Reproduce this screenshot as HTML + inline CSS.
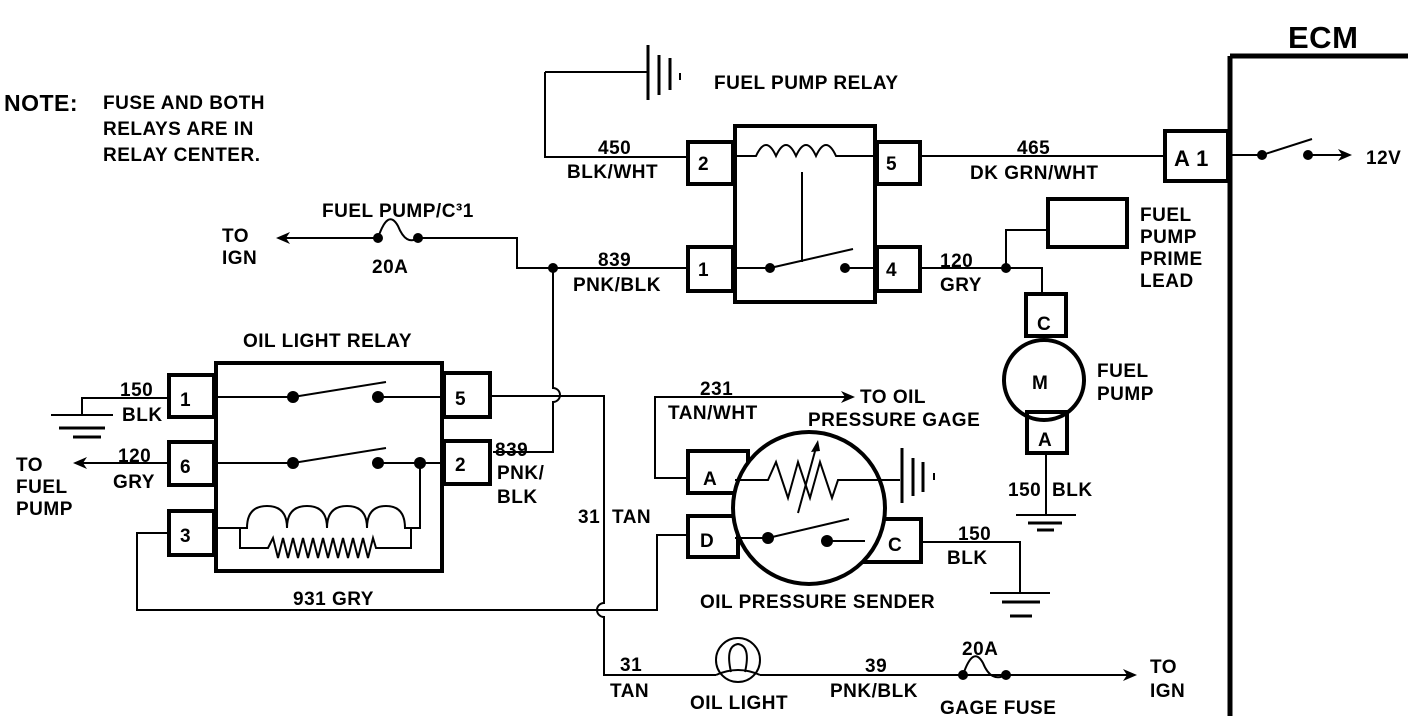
<!DOCTYPE html>
<html><head><meta charset="utf-8"><style>
html,body{margin:0;padding:0;background:#fff;}
svg{display:block}
text{font-family:"Liberation Sans",sans-serif;font-weight:bold;font-size:19px;letter-spacing:0.5px;fill:#000}
</style></head><body>
<svg width="1408" height="716" viewBox="0 0 1408 716" xmlns="http://www.w3.org/2000/svg">
<g fill="none" stroke="#000" stroke-width="2">
<rect x="735" y="126" width="140" height="176" stroke-width="4"/>
<rect x="688" y="142" width="45" height="42" stroke-width="4"/>
<rect x="877" y="142" width="43" height="42" stroke-width="4"/>
<rect x="688" y="247" width="45" height="44" stroke-width="4"/>
<rect x="877" y="247" width="43" height="44" stroke-width="4"/>
<path d="M735 156 H756 q10 -22 20 0 q10 -22 20 0 q10 -22 20 0 q10 -22 20 0 H875"/>
<path d="M802 172 V262"/>
<path d="M735 268 H770 M770 268 L853 249 M845 268 H877"/>
<path d="M545 72 V157 H688 M545 72 H648"/>
<path d="M648 45 V100 M659 55 V95 M670 58 V90" stroke-width="3"/>
<path d="M680 73 V80"/>
<path d="M1230 56 V716 M1230 56 H1408" stroke-width="5"/>
<rect x="1165" y="131" width="63" height="50" stroke-width="4"/>
<path d="M920 156 H1165"/>
<path d="M1230 155 H1262 L1312 139 M1308 155 H1345"/>
<path d="M282 238 H378 q10 -30 20 -12 q8 20 20 12 H517 V268 H688"/>
<path d="M553 268 V388 a7 7 0 0 1 0 14 V452 H493"/>
<path d="M920 268 H1042 V295 M1006 268 V230 H1048"/>
<rect x="1048" y="199" width="79" height="48" stroke-width="4"/>
<rect x="1026" y="294" width="40" height="42" stroke-width="4"/>
<circle cx="1044" cy="380" r="40" stroke-width="4"/>
<rect x="1027" y="412" width="40" height="41" stroke-width="4"/>
<path d="M1046 453 V515 M1016 515 H1076"/>
<path d="M1028 523 H1062 M1037 530 H1054" stroke-width="3"/>
<rect x="216" y="363" width="226" height="208" stroke-width="4"/>
<rect x="169" y="375" width="45" height="42" stroke-width="4"/>
<rect x="169" y="442" width="45" height="43" stroke-width="4"/>
<rect x="169" y="511" width="45" height="44" stroke-width="4"/>
<rect x="444" y="373" width="46" height="44" stroke-width="4"/>
<rect x="444" y="441" width="46" height="43" stroke-width="4"/>
<path d="M216 397 H293 L386 382 M378 397 H444"/>
<path d="M216 463 H293 L386 448 M378 463 H444 M420 463 V528 H404"/>
<path d="M216 528 H247 q0 -22 20 -22 q20 0 20 22 q0 -22 20 -22 q20 0 20 22 q0 -22 20 -22 q20 0 20 22 q0 -22 19 -22 q19 0 19 22"/>
<path d="M240 528 V548 H268 l5 -10 l5 20 l5 -20 l5 20 l5 -20 l5 20 l5 -20 l5 20 l5 -20 l5 20 l5 -20 l5 20 l5 -20 l5 20 l5 -20 l5 20 l5 -20 l5 20 l5 -20 l5 20 l5 -20 l3 10 H411 V528"/>
<path d="M169 398 H82 V415 M51 415 H113"/>
<path d="M59 428 H105 M73 437 H101" stroke-width="3"/>
<path d="M169 463 H76"/>
<path d="M169 533 H137 V610 H657 V535 H688"/>
<path d="M490 396 H604 V603 a7 7 0 0 0 0 14 V675 H716 M760 675 H1130"/>
<circle cx="738" cy="660" r="22"/>
<path d="M731 672 q-6 -26 7 -28 q13 2 7 28 M716 675 q22 -10 44 0"/>
<path d="M963 675 q10 -30 20 -12 q8 20 23 12"/>
<rect x="688" y="451" width="60" height="42" stroke-width="4"/>
<rect x="688" y="516" width="50" height="41" stroke-width="4"/>
<rect x="865" y="519" width="56" height="43" stroke-width="4"/>
<circle cx="809" cy="508" r="76" stroke-width="4" fill="#fff"/>
<path d="M688 478 H655 V397 H845"/>
<path d="M735 480 H768 l8 -18 l12 36 l10 -36 l12 36 l10 -36 l12 36 l6 -18 H900"/>
<path d="M798 513 L817 444"/>
<path d="M902 448 V503 M913 458 V496 M923 462 V492" stroke-width="3"/>
<path d="M934 473 V480"/>
<path d="M735 538 H768 L849 519 M827 541 H865"/>
<path d="M921 542 H1020 V593 M990 593 H1050"/>
<path d="M1002 602 H1040 M1010 616 H1032" stroke-width="3"/>
</g>
<g fill="#000">
<circle cx="770" cy="268" r="5"/><circle cx="845" cy="268" r="5"/>
<circle cx="1262" cy="155" r="5"/><circle cx="1308" cy="155" r="5"/>
<circle cx="378" cy="238" r="5"/><circle cx="418" cy="238" r="5"/>
<circle cx="553" cy="268" r="5"/><circle cx="1006" cy="268" r="5"/>
<circle cx="293" cy="397" r="6"/><circle cx="378" cy="397" r="6"/>
<circle cx="293" cy="463" r="6"/><circle cx="378" cy="463" r="6"/><circle cx="420" cy="463" r="6"/>
<circle cx="963" cy="675" r="5"/><circle cx="1006" cy="675" r="5"/>
<circle cx="768" cy="538" r="6"/><circle cx="827" cy="541" r="6"/>
<path d="M1352 155 l-14 -6 l4 6 l-4 6z"/>
<path d="M276 238 l14 -6 l-4 6 l4 6z"/>
<path d="M73 463 l14 -6 l-4 6 l4 6z"/>
<path d="M855 397 l-14 -6 l4 6 l-4 6z"/>
<path d="M1137 675 l-14 -6 l4 6 l-4 6z"/>
<path d="M818 440 l-7 12 l9 -1z"/>
</g>
<text x="1288" y="48" style="font-size:31px">ECM</text>
<text x="4" y="111" style="font-size:23px">NOTE:</text>
<text x="103" y="109">FUSE AND BOTH</text>
<text x="103" y="135">RELAYS ARE IN</text>
<text x="103" y="161">RELAY CENTER.</text>
<text x="714" y="89">FUEL PUMP RELAY</text>
<text x="598" y="154">450</text>
<text x="567" y="178">BLK/WHT</text>
<text x="698" y="170">2</text><text x="886" y="170">5</text>
<text x="698" y="276">1</text><text x="886" y="276">4</text>
<text x="1017" y="154">465</text>
<text x="970" y="179">DK GRN/WHT</text>
<text x="1174" y="166" style="font-size:22px">A 1</text>
<text x="1366" y="164">12V</text>
<text x="322" y="217">FUEL PUMP/C³1</text>
<text x="222" y="242">TO</text><text x="222" y="264">IGN</text>
<text x="372" y="273">20A</text>
<text x="598" y="266">839</text>
<text x="573" y="291">PNK/BLK</text>
<text x="940" y="267">120</text>
<text x="940" y="291">GRY</text>
<text x="1140" y="221">FUEL</text><text x="1140" y="243">PUMP</text><text x="1140" y="265">PRIME</text><text x="1140" y="287">LEAD</text>
<text x="1037" y="330">C</text>
<text x="1032" y="389">M</text>
<text x="1038" y="446">A</text>
<text x="1097" y="377">FUEL</text><text x="1097" y="400">PUMP</text>
<text x="1008" y="496">150</text><text x="1052" y="496">BLK</text>
<text x="243" y="347">OIL LIGHT RELAY</text>
<text x="180" y="406">1</text><text x="180" y="473">6</text><text x="180" y="542">3</text>
<text x="455" y="405">5</text><text x="455" y="471">2</text>
<text x="120" y="396">150</text><text x="122" y="421">BLK</text>
<text x="118" y="462">120</text><text x="113" y="488">GRY</text>
<text x="16" y="471">TO</text><text x="16" y="493">FUEL</text><text x="16" y="515">PUMP</text>
<text x="495" y="456">839</text><text x="497" y="479">PNK/</text><text x="497" y="503">BLK</text>
<text x="578" y="523">31</text><text x="612" y="523">TAN</text>
<text x="293" y="605">931 GRY</text>
<text x="700" y="395">231</text>
<text x="668" y="419">TAN/WHT</text>
<text x="860" y="403">TO OIL</text>
<text x="808" y="426">PRESSURE GAGE</text>
<text x="703" y="485">A</text>
<text x="700" y="547">D</text>
<text x="888" y="551">C</text>
<text x="958" y="540">150</text><text x="947" y="564">BLK</text>
<text x="700" y="608">OIL PRESSURE SENDER</text>
<text x="620" y="671">31</text><text x="610" y="697">TAN</text>
<text x="690" y="709">OIL LIGHT</text>
<text x="865" y="672">39</text>
<text x="830" y="697">PNK/BLK</text>
<text x="962" y="655">20A</text>
<text x="940" y="714">GAGE FUSE</text>
<text x="1150" y="673">TO</text><text x="1150" y="697">IGN</text>
</svg>
</body></html>
